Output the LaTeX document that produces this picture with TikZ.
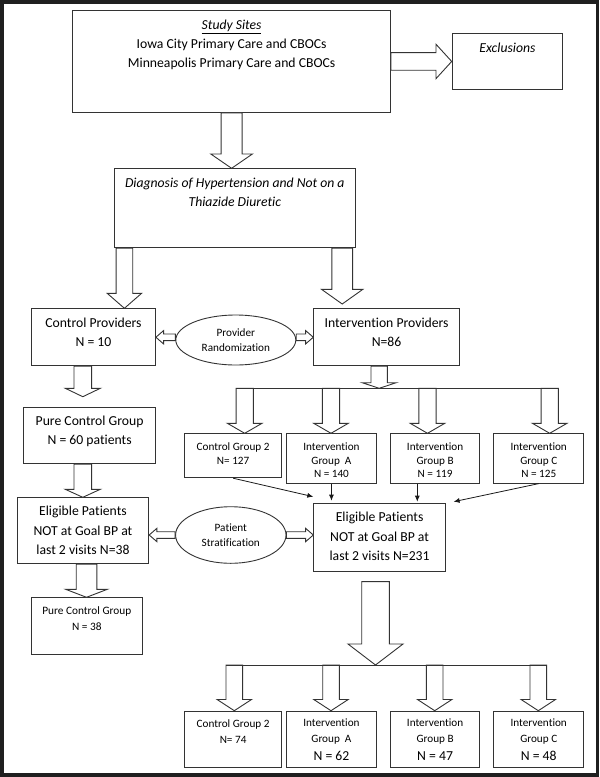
\documentclass[tikz,border=0pt]{standalone}
\usepackage{fontspec}
\setmainfont{Carlito}[Ligatures=NoCommon]
\usetikzlibrary{calc,shapes.geometric,arrows.meta}

% block arrow: from, to, shaft half width, head half width, head length
\newcommand{\fatarrow}[5]{%
  \coordinate (hb) at ($(#2)!#5pt!(#1)$);
  \draw[fat] ($(#1)!#3pt!90:(#2)$) -- ($(hb)!#3pt!90:(#2)$) -- ($(hb)!#4pt!90:(#2)$) -- (#2)
    -- ($(hb)!#4pt!-90:(#2)$) -- ($(hb)!#3pt!-90:(#2)$) -- ($(#1)!#3pt!-90:(#2)$) -- cycle;}

\begin{document}
\begin{tikzpicture}[x=1pt,y=-1pt,
  box/.style={draw=black!80,line width=0.9pt,fill=white,inner sep=0pt,align=center,anchor=north west},
  bigtext/.style={font=\fontsize{13.7}{19}\selectfont},
  smalltext/.style={font=\fontsize{11.2}{13.5}\selectfont},
  oval/.style={draw=black!80,line width=0.9pt,fill=white,ellipse,inner sep=0pt,align=center,font=\fontsize{11.2}{15}\selectfont},
  fat/.style={draw=black!80,line width=0.9pt,fill=white,line join=miter},
  feed/.style={draw=black!90,line width=0.8pt,-{Latex[length=6pt,width=5pt]}}]
\useasboundingbox (0,0) rectangle (600,777);
{
% Drawing outer frame
\draw[line width=3.5pt,black!88] (1.75,1.75) rectangle (597.5,775);

% Drawing study sites and exclusions
\node[box,bigtext,minimum width=317.7pt,minimum height=102pt,text height=57.5pt,text depth=44.5pt] (study) at (72.3,10) {\underline{\textit{Study Sites}}\\Iowa City Primary Care and CBOCs\\Minneapolis Primary Care and CBOCs};
\node[box,bigtext,minimum width=110.6pt,minimum height=56.6pt,text height=19.1pt,text depth=37.5pt] (excl) at (451.7,32.7) {\textit{Exclusions}};

% Drawing diagnosis box
\node[box,font=\fontsize{13.7}{19}\selectfont\itshape,minimum width=241.3pt,minimum height=79pt,text height=37.9pt,text depth=41.1pt] (diag) at (113.7,168.3) {Diagnosis of Hypertension and Not on a\\Thiazide Diuretic};

% Drawing providers
\node[box,bigtext,minimum width=124pt,minimum height=57pt,text height=37.9pt,text depth=19.1pt] (ctrl) at (31,308.3) {Control Providers\\N = 10};
\node[box,bigtext,minimum width=145.7pt,minimum height=57pt,text height=37.9pt,text depth=19.1pt] (intprov) at (313.3,308.3) {Intervention Providers\\N=86};
\node[oval,minimum width=120pt,minimum height=50pt] (prov) at (235.8,340) {Provider\\Randomization};

% Drawing control branch
\node[box,bigtext,minimum width=131.7pt,minimum height=56.6pt,text height=37.8pt,text depth=18.8pt] (pure) at (23.3,406.7) {Pure Control Group\\N = 60 patients};
\node[box,font=\fontsize{13.7}{19.5}\selectfont,minimum width=131.6pt,minimum height=66pt,text height=56.9pt,text depth=9.1pt] (eligL) at (16.7,497.3) {Eligible Patients\\NOT at Goal BP at\\last 2 visits N=38};
\node[box,font=\fontsize{11.3}{16.7}\selectfont,minimum width=110.7pt,minimum height=56.7pt,text height=33.1pt,text depth=23.6pt] (pure2) at (31,597.3) {Pure Control Group\\N = 38};

% Drawing provider groups
\node[box,smalltext,minimum width=96.7pt,minimum height=44pt,text height=30.6pt,text depth=13.4pt] (cg2a) at (184.3,433.3) {Control Group 2\\N= 127};
\node[box,smalltext,minimum width=90pt,minimum height=49.4pt,text height=44.1pt,text depth=5.3pt] (iga) at (286,433.3) {Intervention\\Group~~A\\N = 140};
\node[box,smalltext,minimum width=89.3pt,minimum height=49.4pt,text height=44.1pt,text depth=5.3pt] (igb) at (390,433.3) {Intervention\\Group B\\N = 119};
\node[box,smalltext,minimum width=90pt,minimum height=49.4pt,text height=44.1pt,text depth=5.3pt] (igc) at (493.3,433.3) {Intervention\\Group C\\N = 125};

% Drawing eligible patients and stratification
\node[box,font=\fontsize{13.7}{19.5}\selectfont,minimum width=131.7pt,minimum height=68.3pt,text height=57.5pt,text depth=10.8pt] (eligR) at (313.3,502.7) {Eligible Patients\\NOT at Goal BP at\\last 2 visits N=231};
\node[oval,minimum width=110.4pt,minimum height=56.6pt] (pat) at (230.8,535) {Patient\\Stratification};

% Drawing stratified groups
\node[box,font=\fontsize{11.2}{16}\selectfont,minimum width=96.7pt,minimum height=56pt,text height=32pt,text depth=24pt] (cg2b) at (184.3,710.7) {Control Group 2\\N= 74};
\node[box,font=\fontsize{11.2}{16}\selectfont,minimum width=90pt,minimum height=56pt,text height=49pt,text depth=7pt] (igab) at (286,710.7) {Intervention\\Group~~A\\[1.5pt]{\fontsize{13.7}{17}\selectfont N = 62}};
\node[box,font=\fontsize{11.2}{16}\selectfont,minimum width=89.3pt,minimum height=56pt,text height=49pt,text depth=7pt] (igbb) at (390,710.7) {Intervention\\Group B\\[1.5pt]{\fontsize{13.7}{17}\selectfont N = 47}};
\node[box,font=\fontsize{11.2}{16}\selectfont,minimum width=90pt,minimum height=56pt,text height=49pt,text depth=7pt] (igcb) at (493.3,710.7) {Intervention\\Group C\\[1.5pt]{\fontsize{13.7}{17}\selectfont N = 48}};

% Drawing block arrows of the top part
\coordinate (s1) at (study.south);
\coordinate (t1) at (study.south |- diag.north);
\fatarrow{s1}{t1}{10.5}{20.8}{14.3}
\coordinate (s2) at (study.east |- excl.west);
\fatarrow{s2}{excl.west}{8.8}{17.2}{15.7}
\coordinate (s3) at ($(diag.south west)+(10.7,0)$);
\coordinate (t3) at (s3 |- ctrl.north);
\fatarrow{s3}{t3}{8.3}{17.2}{15}
\coordinate (s4) at ($(diag.south east)+(-13.7,0)$);
\coordinate (t4) at ($(s4 |- intprov.north)+(0,-4.3)$);
\fatarrow{s4}{t4}{10.4}{20.7}{14.7}

% Drawing randomization arrows
\coordinate (d1) at (prov.west |- ctrl.east);
\fatarrow{d1}{ctrl.east}{3.3}{6.7}{7.7}
\coordinate (d2) at (prov.east |- intprov.west);
\fatarrow{d2}{intprov.west}{3.3}{6.7}{7.7}

% Drawing control branch arrows
\coordinate (s5) at ($(ctrl.south west)+(51.8,0)$);
\coordinate (t5) at ($(s5 |- pure.north)+(0,-10)$);
\fatarrow{s5}{t5}{8.8}{17.5}{8.4}
\coordinate (s6) at (s5 |- pure.south);
\coordinate (t6) at (s5 |- eligL.north);
\fatarrow{s6}{t6}{8.8}{17.5}{8}
\coordinate (s7) at ($(eligL.south west)+(69.8,0)$);
\coordinate (t7) at (s7 |- pure2.north);
\fatarrow{s7}{t7}{10.3}{20.8}{8}

% Drawing split into provider groups
\coordinate (bar1w) at (236,388.3);
\coordinate (bar1e) at (558.3,388.3);
\coordinate (s8) at ($(intprov.south west)+(65.9,0)$);
\coordinate (t8) at (s8 |- bar1w);
\fatarrow{s8}{t8}{8.2}{17}{5.6}
\foreach \bx/\nm in {244.7/cg2a,331/iga,427.5/igb,549.7/igc} {
  \coordinate (s) at (\bx,388.3);
  \coordinate (t) at (s |- \nm.north);
  \fatarrow{s}{t}{8.6}{17.3}{10}
}
\draw[fat] (bar1w) -- (bar1e);

% Drawing feeds into eligible patients
\draw[feed] (cg2a.south) -- ($(eligR.north west)+(0,-6)$);
\draw[feed] (iga.south) -- ($(iga.south |- eligR.north)+(0,-2)$);
\coordinate (f3) at ($(igb.south west)+(27.3,0)$);
\draw[feed] (f3) -- ($(f3 |- eligR.north)+(0,-1)$);
\draw[feed] (igc.south) -- ($(eligR.north east)+(7.7,-1)$);

% Drawing stratification arrows
\coordinate (d3) at (eligL.east |- pat.west);
\fatarrow{pat.west}{d3}{3.3}{6.7}{7.7}
\coordinate (d4) at (eligR.west |- pat.east);
\fatarrow{pat.east}{d4}{3.3}{6.7}{7.7}

% Drawing split into stratified groups
\coordinate (bar2w) at (226,665);
\coordinate (bar2e) at (546.6,665);
\coordinate (s13) at ($(eligR.south west)+(62.2,9.7)$);
\coordinate (t13) at (s13 |- bar2w);
\fatarrow{s13}{t13}{13.8}{27.5}{21}
\foreach \bx/\nm in {234.3/cg2b,331/igab,434.7/igbb,538.3/igcb} {
  \coordinate (s) at (\bx,665);
  \coordinate (t) at (s |- \nm.north);
  \fatarrow{s}{t}{8.3}{17.2}{11.2}
}
\draw[fat] (bar2w) -- (bar2e);
}
\end{tikzpicture}
\end{document}
